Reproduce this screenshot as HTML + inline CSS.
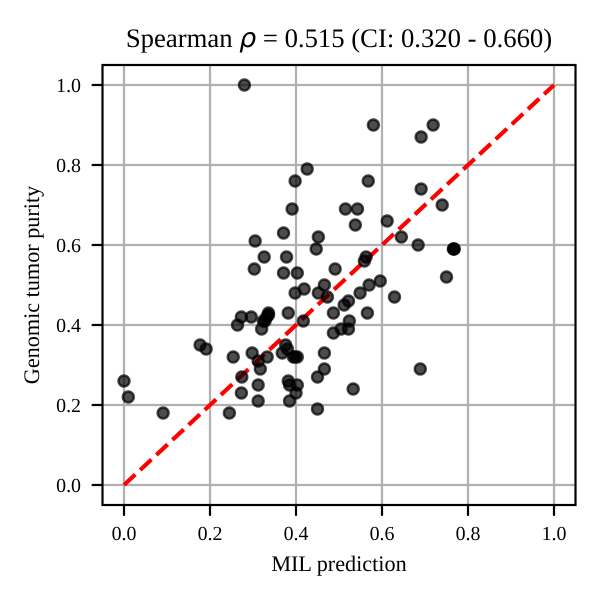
<!DOCTYPE html>
<html>
<head>
<meta charset="utf-8">
<title>Spearman scatter</title>
<style>
html,body{margin:0;padding:0;background:#fff;width:600px;height:600px;overflow:hidden}
svg{display:block}
text{font-family:"Liberation Serif",serif;fill:#000;text-rendering:geometricPrecision}
</style>
</head>
<body>
<svg id="chart" xmlns="http://www.w3.org/2000/svg" width="600" height="600" viewBox="0 0 600 600">
<text id="title" x="339" y="47" text-anchor="middle" font-size="26.7px">Spearman <tspan style="font-family:'DejaVu Sans',sans-serif;font-style:italic">ρ</tspan> = 0.515 (CI: 0.320 - 0.660)</text>
<text id="xlabel" x="339" y="571" text-anchor="middle" font-size="22.2px">MIL prediction</text>
<text id="ylabel" x="39" y="285" text-anchor="middle" font-size="22.2px" transform="rotate(-90 39 285)">Genomic tumor purity</text>
</svg>
<script>
const xTicks = [0, 0.2, 0.4, 0.6, 0.8, 1.0];
const yTicks = [0, 0.2, 0.4, 0.6, 0.8, 1.0];
const xTickLabels = ["0.0", "0.2", "0.4", "0.6", "0.8", "1.0"];
const yTickLabels = ["0.0", "0.2", "0.4", "0.6", "0.8", "1.0"];
const xDomain = [-0.05, 1.05];
const yDomain = [-0.05, 1.05];
const refLineX = [0, 1];
const refLineY = [0, 1];
const predictions = [
  .28,.426,.398,.391,.371,.305,.452,.447,.326,.378,.303,.371,.403,.491,.58,.719,.691,.568,.691,.74,
  .515,.543,.538,.612,.645,.684,.766,.767,.768,.75,.563,.559,.596,.57,.549,.466,.419,.398,.452,
  .473,.629,.522,.512,.487,.566,.524,.417,.505,.522,.487,.273,.296,.264,.336,.336,.328,.324,.332,
  .32,.382,.376,.38,.368,.298,.254,.333,.312,.317,.274,.273,.394,.398,.403,.466,.466,.45,.382,.385,
  .403,.312,.385,.40,.312,.245,.091,0,.01,.177,.191,.45,.533,.689
];
const purities = [
  1,.79,.76,.69,.63,.61,.62,.59,.57,.57,.54,.53,.53,.54,.90,.90,.87,.76,.74,.70,
  .69,.69,.65,.66,.62,.60,.59,.59,.59,.52,.57,.56,.51,.50,.48,.50,.49,.48,.48,
  .47,.47,.46,.45,.43,.43,.41,.41,.39,.39,.38,.42,.42,.40,.43,.425,.41,.41,.42,
  .39,.43,.35,.34,.33,.33,.32,.32,.31,.29,.27,.23,.32,.32,.32,.33,.29,.27,.26,.25,
  .25,.25,.21,.23,.21,.18,.18,.26,.22,.35,.34,.19,.24,.29
];

const plotLeft = 102.5, plotRight = 575.5, plotTop = 65, plotBottom = 505;
const NS = "http://www.w3.org/2000/svg";
const svg = document.getElementById("chart");
const titleNode = document.getElementById("title");

function scaleX(v) {
  return plotLeft + (v - xDomain[0]) / (xDomain[1] - xDomain[0]) * (plotRight - plotLeft);
}
function scaleY(v) {
  return plotBottom - (v - yDomain[0]) / (yDomain[1] - yDomain[0]) * (plotBottom - plotTop);
}
function make(tag, attrs) {
  const el = document.createElementNS(NS, tag);
  for (const k in attrs) el.setAttribute(k, attrs[k]);
  return el;
}

const gridGroup = make("g", {stroke: "#b0b0b0", "stroke-width": 2.2});


svg.insertBefore(gridGroup, titleNode);
xTicks.forEach(function (t) {
  const line = make("line", {x1: scaleX(t), x2: scaleX(t), y1: plotTop, y2: plotBottom});
  
  
  gridGroup.appendChild(line);
});
yTicks.forEach(function (t) {
  const line = make("line", {x1: plotLeft, x2: plotRight, y1: scaleY(t), y2: scaleY(t)});
  
  
  gridGroup.appendChild(line);
});

const refLine = make("line", {
  x1: scaleX(refLineX[0]), y1: scaleY(refLineY[0]),
  x2: scaleX(refLineX[1]), y2: scaleY(refLineY[1]),
  stroke: "#ff0000", "stroke-width": 4.17, "stroke-dasharray": "15.4 6.67"
});


svg.insertBefore(refLine, titleNode);

const pointGroup = make("g", {});


svg.insertBefore(pointGroup, titleNode);
predictions.forEach(function (x, i) {
  const c = make("circle", {
    cx: scaleX(x), cy: scaleY(purities[i]), r: 5.5,
    fill: "#000", "fill-opacity": 0.7, stroke: "#000", "stroke-opacity": 0.7, "stroke-width": 2.4
  });
  
  
  pointGroup.appendChild(c);
});

const frame = make("rect", {
  x: plotLeft, y: plotTop, width: plotRight - plotLeft, height: plotBottom - plotTop,
  fill: "none", stroke: "#000", "stroke-width": 2.2
});


svg.insertBefore(frame, titleNode);

xTicks.forEach(function (t, i) {
  const mark = make("line", {x1: scaleX(t), x2: scaleX(t), y1: plotBottom, y2: plotBottom + 10.8, stroke: "#000", "stroke-width": 2.2});
  
  
  svg.insertBefore(mark, titleNode);
  const label = make("text", {x: scaleX(t), y: 540, "text-anchor": "middle", "font-size": "19.9px"});
  
  
  label.textContent = xTickLabels[i];
  svg.insertBefore(label, titleNode);
});
yTicks.forEach(function (t, i) {
  const mark = make("line", {x1: plotLeft - 10.8, x2: plotLeft, y1: scaleY(t), y2: scaleY(t), stroke: "#000", "stroke-width": 2.2});
  
  
  svg.insertBefore(mark, titleNode);
  const label = make("text", {x: 81, y: scaleY(t) + 7, "text-anchor": "end", "font-size": "19.9px"});
  
  
  label.textContent = yTickLabels[i];
  svg.insertBefore(label, titleNode);
});
</script>
</body>
</html>
